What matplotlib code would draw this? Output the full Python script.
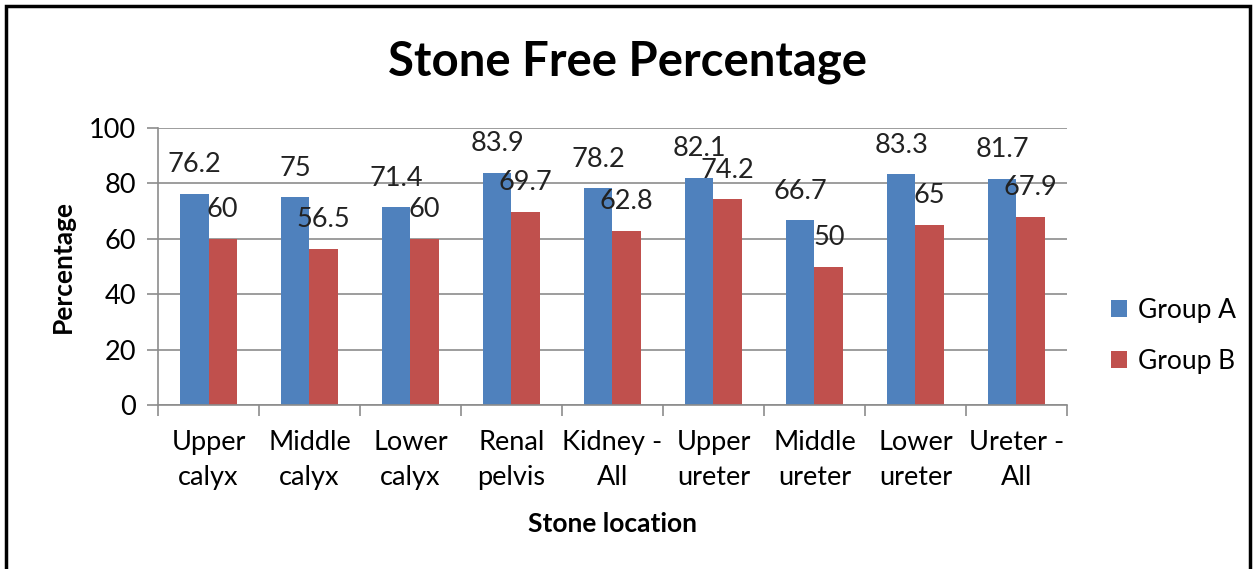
import numpy as np
import matplotlib.pyplot as plt
from matplotlib.patches import Rectangle

plt.rcParams['font.family'] = ['Lato', 'DejaVu Sans']

# Dados do gráfico
locations = ['Upper\ncalyx', 'Middle\ncalyx', 'Lower\ncalyx', 'Renal\npelvis', 'Kidney -\nAll',
             'Upper\nureter', 'Middle\nureter', 'Lower\nureter', 'Ureter -\nAll']
group_a = [76.2, 75, 71.4, 83.9, 78.2, 82.1, 66.7, 83.3, 81.7]
group_b = [60, 56.5, 60, 69.7, 62.8, 74.2, 50, 65, 67.9]
y_ticks = [0, 20, 40, 60, 80, 100]

blue = '#4F81BD'
red = '#C0504D'
grey = '#8C8C8C'

fig = plt.figure(figsize=(12.56, 5.69), dpi=100)
ax = fig.add_axes([0.1258, 0.2882, 0.7237, 0.4868])

x = np.arange(len(locations))
w = 0.282
bars_a = ax.bar(x - w / 2, group_a, w, color=blue, label='Group A')
bars_b = ax.bar(x + w / 2, group_b, w, color=red, label='Group B')

# Rótulos dos valores
for bars, vals in [(bars_a, group_a), (bars_b, group_b)]:
    for b, v in zip(bars, vals):
        ax.annotate(f'{v:g}', xy=(b.get_x() + b.get_width() / 2, v), xytext=(0, 21),
                    textcoords='offset points', ha='center', va='center', fontsize=19.5,
                    color='#222222')

ax.set_xlim(-0.5, len(locations) - 0.5)
ax.set_ylim(0, 100)
ax.set_yticks(y_ticks)
ax.yaxis.grid(True, color=grey, linewidth=1.2)
ax.set_axisbelow(True)

ax.set_xticks(np.arange(len(locations) + 1) - 0.5)
ax.set_xticklabels([])
ax.set_xticks(x, minor=True)
ax.set_xticklabels(locations, minor=True, fontsize=19.5, linespacing=1.5)
ax.tick_params(axis='x', which='minor', length=0, pad=18)
ax.tick_params(axis='x', which='major', length=8, color=grey, width=1.2)
ax.tick_params(axis='y', length=8, color=grey, width=1.2, labelsize=19.5, pad=8)

for s in ['top', 'right']:
    ax.spines[s].set_visible(False)
for s in ['left', 'bottom']:
    ax.spines[s].set_color(grey)
    ax.spines[s].set_linewidth(1.2)

ax.set_ylabel('Percentage', fontsize=19, fontweight='bold', labelpad=10)
ax.set_xlabel('Stone location', fontsize=19, fontweight='bold', labelpad=16)
fig.text(0.5, 0.891, 'Stone Free Percentage', fontsize=34, fontweight='bold',
         ha='center', va='center')

fig.legend(loc='center left', bbox_to_anchor=(0.866, 0.41), frameon=False, fontsize=19,
           handlelength=0.6, handleheight=0.6, handletextpad=0.4, labelspacing=1.0)

# Moldura
fig.patches.append(Rectangle((6 / 1256, -0.1), 1244 / 1256, 1.1 - 6 / 569, transform=fig.transFigure,
                             fill=False, edgecolor='black', linewidth=2.5))

fig.savefig('out.png', dpi=100)
